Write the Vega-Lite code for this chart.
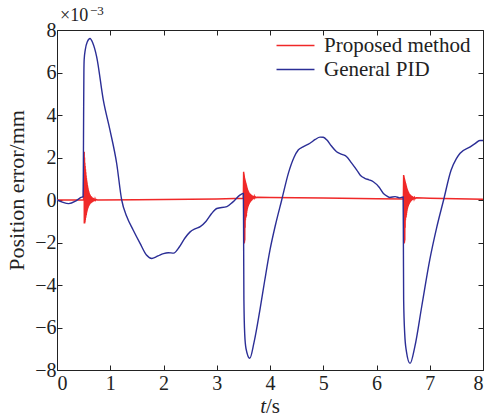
{
  "$schema": "https://vega.github.io/schema/vega-lite/v6.json",
  "width": 426,
  "height": 340,
  "autosize": "none",
  "padding": {"left": 57, "top": 30, "right": 6, "bottom": 48},
  "background": "white",
  "config": {
    "view": {"stroke": "#222", "strokeWidth": 1},
    "axis": {
      "grid": false,
      "labelFont": "Liberation Serif",
      "labelFontSize": 20,
      "labelColor": "#222",
      "tickColor": "#222",
      "domainColor": "#222",
      "tickSize": -5,
      "titleFont": "Liberation Serif",
      "titleFontWeight": "normal",
      "titleColor": "#222"
    },
    "legend": {
      "labelFont": "Liberation Serif",
      "labelFontSize": 21,
      "labelColor": "#222"
    }
  },
  "datasets": {
    "red": [
      {"t": 0, "e": 0, "series": "Proposed method"},
      {"t": 0.25, "e": 0, "series": "Proposed method"},
      {"t": 0.5, "e": 0, "series": "Proposed method"},
      {"t": 0.51, "e": 2.27, "series": "Proposed method"},
      {"t": 0.513, "e": -1.1, "series": "Proposed method"},
      {"t": 0.516, "e": 2.0, "series": "Proposed method"},
      {"t": 0.519, "e": -1.1, "series": "Proposed method"},
      {"t": 0.522, "e": 1.75, "series": "Proposed method"},
      {"t": 0.525, "e": -1.05, "series": "Proposed method"},
      {"t": 0.528, "e": 1.6, "series": "Proposed method"},
      {"t": 0.531, "e": -0.95, "series": "Proposed method"},
      {"t": 0.534, "e": 1.45, "series": "Proposed method"},
      {"t": 0.537, "e": -0.85, "series": "Proposed method"},
      {"t": 0.54, "e": 1.3, "series": "Proposed method"},
      {"t": 0.543, "e": -0.78, "series": "Proposed method"},
      {"t": 0.546, "e": 1.15, "series": "Proposed method"},
      {"t": 0.549, "e": -0.7, "series": "Proposed method"},
      {"t": 0.552, "e": 1.02, "series": "Proposed method"},
      {"t": 0.555, "e": -0.62, "series": "Proposed method"},
      {"t": 0.558, "e": 0.92, "series": "Proposed method"},
      {"t": 0.561, "e": -0.55, "series": "Proposed method"},
      {"t": 0.564, "e": 0.82, "series": "Proposed method"},
      {"t": 0.567, "e": -0.49, "series": "Proposed method"},
      {"t": 0.57, "e": 0.72, "series": "Proposed method"},
      {"t": 0.573, "e": -0.44, "series": "Proposed method"},
      {"t": 0.576, "e": 0.63, "series": "Proposed method"},
      {"t": 0.579, "e": -0.39, "series": "Proposed method"},
      {"t": 0.582, "e": 0.55, "series": "Proposed method"},
      {"t": 0.585, "e": -0.35, "series": "Proposed method"},
      {"t": 0.588, "e": 0.48, "series": "Proposed method"},
      {"t": 0.591, "e": -0.31, "series": "Proposed method"},
      {"t": 0.594, "e": 0.42, "series": "Proposed method"},
      {"t": 0.597, "e": -0.28, "series": "Proposed method"},
      {"t": 0.6, "e": 0.37, "series": "Proposed method"},
      {"t": 0.603, "e": -0.25, "series": "Proposed method"},
      {"t": 0.606, "e": 0.32, "series": "Proposed method"},
      {"t": 0.609, "e": -0.22, "series": "Proposed method"},
      {"t": 0.612, "e": 0.28, "series": "Proposed method"},
      {"t": 0.615, "e": -0.2, "series": "Proposed method"},
      {"t": 0.618, "e": 0.25, "series": "Proposed method"},
      {"t": 0.621, "e": -0.18, "series": "Proposed method"},
      {"t": 0.625, "e": 0.22, "series": "Proposed method"},
      {"t": 0.63, "e": -0.16, "series": "Proposed method"},
      {"t": 0.635, "e": 0.19, "series": "Proposed method"},
      {"t": 0.64, "e": -0.14, "series": "Proposed method"},
      {"t": 0.645, "e": 0.16, "series": "Proposed method"},
      {"t": 0.65, "e": -0.12, "series": "Proposed method"},
      {"t": 0.656, "e": 0.13, "series": "Proposed method"},
      {"t": 0.662, "e": -0.1, "series": "Proposed method"},
      {"t": 0.668, "e": 0.11, "series": "Proposed method"},
      {"t": 0.675, "e": -0.08, "series": "Proposed method"},
      {"t": 0.682, "e": 0.09, "series": "Proposed method"},
      {"t": 0.69, "e": -0.06, "series": "Proposed method"},
      {"t": 0.698, "e": 0.07, "series": "Proposed method"},
      {"t": 0.706, "e": -0.04, "series": "Proposed method"},
      {"t": 0.715, "e": 0.05, "series": "Proposed method"},
      {"t": 0.725, "e": -0.02, "series": "Proposed method"},
      {"t": 0.74, "e": 0.02, "series": "Proposed method"},
      {"t": 0.76, "e": 0, "series": "Proposed method"},
      {"t": 1.5, "e": 0.01, "series": "Proposed method"},
      {"t": 2.5, "e": 0.03, "series": "Proposed method"},
      {"t": 3.0, "e": 0.05, "series": "Proposed method"},
      {"t": 3.5, "e": 0.08, "series": "Proposed method"},
      {"t": 3.505, "e": 1.33, "series": "Proposed method"},
      {"t": 3.508, "e": -2.05, "series": "Proposed method"},
      {"t": 3.511, "e": 1.25, "series": "Proposed method"},
      {"t": 3.514, "e": -2.05, "series": "Proposed method"},
      {"t": 3.517, "e": 1.15, "series": "Proposed method"},
      {"t": 3.52, "e": -2.0, "series": "Proposed method"},
      {"t": 3.523, "e": 1.05, "series": "Proposed method"},
      {"t": 3.526, "e": -1.9, "series": "Proposed method"},
      {"t": 3.529, "e": 0.98, "series": "Proposed method"},
      {"t": 3.532, "e": -1.3, "series": "Proposed method"},
      {"t": 3.535, "e": 0.92, "series": "Proposed method"},
      {"t": 3.538, "e": -0.95, "series": "Proposed method"},
      {"t": 3.541, "e": 0.86, "series": "Proposed method"},
      {"t": 3.544, "e": -0.85, "series": "Proposed method"},
      {"t": 3.547, "e": 0.8, "series": "Proposed method"},
      {"t": 3.55, "e": -0.8, "series": "Proposed method"},
      {"t": 3.553, "e": 0.74, "series": "Proposed method"},
      {"t": 3.556, "e": -0.75, "series": "Proposed method"},
      {"t": 3.559, "e": 0.68, "series": "Proposed method"},
      {"t": 3.562, "e": -0.6, "series": "Proposed method"},
      {"t": 3.565, "e": 0.62, "series": "Proposed method"},
      {"t": 3.568, "e": -0.5, "series": "Proposed method"},
      {"t": 3.571, "e": 0.56, "series": "Proposed method"},
      {"t": 3.574, "e": -0.43, "series": "Proposed method"},
      {"t": 3.577, "e": 0.51, "series": "Proposed method"},
      {"t": 3.58, "e": -0.37, "series": "Proposed method"},
      {"t": 3.583, "e": 0.47, "series": "Proposed method"},
      {"t": 3.586, "e": -0.32, "series": "Proposed method"},
      {"t": 3.589, "e": 0.43, "series": "Proposed method"},
      {"t": 3.592, "e": -0.28, "series": "Proposed method"},
      {"t": 3.595, "e": 0.4, "series": "Proposed method"},
      {"t": 3.598, "e": -0.24, "series": "Proposed method"},
      {"t": 3.601, "e": 0.37, "series": "Proposed method"},
      {"t": 3.604, "e": -0.2, "series": "Proposed method"},
      {"t": 3.607, "e": 0.34, "series": "Proposed method"},
      {"t": 3.61, "e": -0.17, "series": "Proposed method"},
      {"t": 3.614, "e": 0.32, "series": "Proposed method"},
      {"t": 3.618, "e": -0.14, "series": "Proposed method"},
      {"t": 3.622, "e": 0.3, "series": "Proposed method"},
      {"t": 3.626, "e": -0.11, "series": "Proposed method"},
      {"t": 3.63, "e": 0.28, "series": "Proposed method"},
      {"t": 3.635, "e": -0.08, "series": "Proposed method"},
      {"t": 3.64, "e": 0.26, "series": "Proposed method"},
      {"t": 3.645, "e": -0.05, "series": "Proposed method"},
      {"t": 3.65, "e": 0.24, "series": "Proposed method"},
      {"t": 3.656, "e": -0.02, "series": "Proposed method"},
      {"t": 3.662, "e": 0.22, "series": "Proposed method"},
      {"t": 3.668, "e": 0.01, "series": "Proposed method"},
      {"t": 3.675, "e": 0.2, "series": "Proposed method"},
      {"t": 3.682, "e": 0.04, "series": "Proposed method"},
      {"t": 3.69, "e": 0.18, "series": "Proposed method"},
      {"t": 3.698, "e": 0.07, "series": "Proposed method"},
      {"t": 3.706, "e": 0.16, "series": "Proposed method"},
      {"t": 3.715, "e": 0.09, "series": "Proposed method"},
      {"t": 3.725, "e": 0.14, "series": "Proposed method"},
      {"t": 3.74, "e": 0.11, "series": "Proposed method"},
      {"t": 3.76, "e": 0.13, "series": "Proposed method"},
      {"t": 4.0, "e": 0.12, "series": "Proposed method"},
      {"t": 5.0, "e": 0.09, "series": "Proposed method"},
      {"t": 6.0, "e": 0.06, "series": "Proposed method"},
      {"t": 6.505, "e": 0.05, "series": "Proposed method"},
      {"t": 6.51, "e": 1.18, "series": "Proposed method"},
      {"t": 6.513, "e": -2.05, "series": "Proposed method"},
      {"t": 6.516, "e": 1.12, "series": "Proposed method"},
      {"t": 6.519, "e": -2.05, "series": "Proposed method"},
      {"t": 6.522, "e": 1.05, "series": "Proposed method"},
      {"t": 6.525, "e": -2.0, "series": "Proposed method"},
      {"t": 6.528, "e": 0.98, "series": "Proposed method"},
      {"t": 6.531, "e": -1.9, "series": "Proposed method"},
      {"t": 6.534, "e": 0.92, "series": "Proposed method"},
      {"t": 6.537, "e": -1.3, "series": "Proposed method"},
      {"t": 6.54, "e": 0.86, "series": "Proposed method"},
      {"t": 6.543, "e": -0.95, "series": "Proposed method"},
      {"t": 6.546, "e": 0.8, "series": "Proposed method"},
      {"t": 6.549, "e": -0.85, "series": "Proposed method"},
      {"t": 6.552, "e": 0.74, "series": "Proposed method"},
      {"t": 6.555, "e": -0.8, "series": "Proposed method"},
      {"t": 6.558, "e": 0.68, "series": "Proposed method"},
      {"t": 6.561, "e": -0.72, "series": "Proposed method"},
      {"t": 6.564, "e": 0.62, "series": "Proposed method"},
      {"t": 6.567, "e": -0.6, "series": "Proposed method"},
      {"t": 6.57, "e": 0.57, "series": "Proposed method"},
      {"t": 6.573, "e": -0.5, "series": "Proposed method"},
      {"t": 6.576, "e": 0.52, "series": "Proposed method"},
      {"t": 6.579, "e": -0.43, "series": "Proposed method"},
      {"t": 6.582, "e": 0.47, "series": "Proposed method"},
      {"t": 6.585, "e": -0.37, "series": "Proposed method"},
      {"t": 6.588, "e": 0.43, "series": "Proposed method"},
      {"t": 6.591, "e": -0.32, "series": "Proposed method"},
      {"t": 6.594, "e": 0.4, "series": "Proposed method"},
      {"t": 6.597, "e": -0.28, "series": "Proposed method"},
      {"t": 6.6, "e": 0.37, "series": "Proposed method"},
      {"t": 6.603, "e": -0.24, "series": "Proposed method"},
      {"t": 6.606, "e": 0.34, "series": "Proposed method"},
      {"t": 6.609, "e": -0.2, "series": "Proposed method"},
      {"t": 6.612, "e": 0.31, "series": "Proposed method"},
      {"t": 6.615, "e": -0.17, "series": "Proposed method"},
      {"t": 6.619, "e": 0.28, "series": "Proposed method"},
      {"t": 6.623, "e": -0.14, "series": "Proposed method"},
      {"t": 6.627, "e": 0.26, "series": "Proposed method"},
      {"t": 6.631, "e": -0.11, "series": "Proposed method"},
      {"t": 6.635, "e": 0.24, "series": "Proposed method"},
      {"t": 6.64, "e": -0.08, "series": "Proposed method"},
      {"t": 6.645, "e": 0.22, "series": "Proposed method"},
      {"t": 6.65, "e": -0.05, "series": "Proposed method"},
      {"t": 6.656, "e": 0.2, "series": "Proposed method"},
      {"t": 6.662, "e": -0.02, "series": "Proposed method"},
      {"t": 6.668, "e": 0.18, "series": "Proposed method"},
      {"t": 6.675, "e": 0.0, "series": "Proposed method"},
      {"t": 6.682, "e": 0.16, "series": "Proposed method"},
      {"t": 6.69, "e": 0.03, "series": "Proposed method"},
      {"t": 6.698, "e": 0.14, "series": "Proposed method"},
      {"t": 6.706, "e": 0.05, "series": "Proposed method"},
      {"t": 6.715, "e": 0.12, "series": "Proposed method"},
      {"t": 6.73, "e": 0.07, "series": "Proposed method"},
      {"t": 6.75, "e": 0.1, "series": "Proposed method"},
      {"t": 7.0, "e": 0.08, "series": "Proposed method"},
      {"t": 8.0, "e": 0.04, "series": "Proposed method"}
    ],
    "blue": [
      {"t": 0, "e": 0, "series": "General PID"},
      {"t": 0.1, "e": -0.1, "series": "General PID"},
      {"t": 0.22, "e": -0.17, "series": "General PID"},
      {"t": 0.35, "e": -0.05, "series": "General PID"},
      {"t": 0.45, "e": 0.12, "series": "General PID"},
      {"t": 0.49, "e": 0.16, "series": "General PID"},
      {"t": 0.495, "e": 1.5, "series": "General PID"},
      {"t": 0.5, "e": 4.0, "series": "General PID"},
      {"t": 0.505, "e": 6.0, "series": "General PID"},
      {"t": 0.51, "e": 6.6, "series": "General PID"},
      {"t": 0.53, "e": 7.05, "series": "General PID"},
      {"t": 0.57, "e": 7.45, "series": "General PID"},
      {"t": 0.62, "e": 7.6, "series": "General PID"},
      {"t": 0.67, "e": 7.4, "series": "General PID"},
      {"t": 0.745, "e": 6.74, "series": "General PID"},
      {"t": 0.87, "e": 4.7, "series": "General PID"},
      {"t": 0.995, "e": 3.29, "series": "General PID"},
      {"t": 1.12, "e": 1.73, "series": "General PID"},
      {"t": 1.215, "e": 0, "series": "General PID"},
      {"t": 1.31, "e": -0.78, "series": "General PID"},
      {"t": 1.43, "e": -1.41, "series": "General PID"},
      {"t": 1.56, "e": -2.04, "series": "General PID"},
      {"t": 1.68, "e": -2.59, "series": "General PID"},
      {"t": 1.78, "e": -2.75, "series": "General PID"},
      {"t": 1.86, "e": -2.68, "series": "General PID"},
      {"t": 1.93, "e": -2.59, "series": "General PID"},
      {"t": 2.0, "e": -2.52, "series": "General PID"},
      {"t": 2.09, "e": -2.48, "series": "General PID"},
      {"t": 2.19, "e": -2.5, "series": "General PID"},
      {"t": 2.3, "e": -2.2, "series": "General PID"},
      {"t": 2.4, "e": -1.8, "series": "General PID"},
      {"t": 2.5, "e": -1.5, "series": "General PID"},
      {"t": 2.6, "e": -1.35, "series": "General PID"},
      {"t": 2.69, "e": -1.25, "series": "General PID"},
      {"t": 2.8, "e": -1.0, "series": "General PID"},
      {"t": 2.9, "e": -0.65, "series": "General PID"},
      {"t": 3.0, "e": -0.4, "series": "General PID"},
      {"t": 3.19, "e": -0.31, "series": "General PID"},
      {"t": 3.3, "e": -0.1, "series": "General PID"},
      {"t": 3.44, "e": 0.24, "series": "General PID"},
      {"t": 3.5, "e": 0.31, "series": "General PID"},
      {"t": 3.505, "e": -2.0, "series": "General PID"},
      {"t": 3.51, "e": -4.7, "series": "General PID"},
      {"t": 3.525, "e": -6.3, "series": "General PID"},
      {"t": 3.55, "e": -7.0, "series": "General PID"},
      {"t": 3.62, "e": -7.45, "series": "General PID"},
      {"t": 3.7, "e": -6.7, "series": "General PID"},
      {"t": 3.81, "e": -5.18, "series": "General PID"},
      {"t": 3.9, "e": -3.8, "series": "General PID"},
      {"t": 4.0, "e": -2.35, "series": "General PID"},
      {"t": 4.1, "e": -1.2, "series": "General PID"},
      {"t": 4.22, "e": 0, "series": "General PID"},
      {"t": 4.35, "e": 1.3, "series": "General PID"},
      {"t": 4.45, "e": 2.0, "series": "General PID"},
      {"t": 4.53, "e": 2.35, "series": "General PID"},
      {"t": 4.62, "e": 2.5, "series": "General PID"},
      {"t": 4.75, "e": 2.67, "series": "General PID"},
      {"t": 4.85, "e": 2.85, "series": "General PID"},
      {"t": 4.94, "e": 2.96, "series": "General PID"},
      {"t": 5.0, "e": 2.95, "series": "General PID"},
      {"t": 5.07, "e": 2.82, "series": "General PID"},
      {"t": 5.15, "e": 2.55, "series": "General PID"},
      {"t": 5.25, "e": 2.27, "series": "General PID"},
      {"t": 5.35, "e": 2.15, "series": "General PID"},
      {"t": 5.44, "e": 2.04, "series": "General PID"},
      {"t": 5.53, "e": 1.75, "series": "General PID"},
      {"t": 5.63, "e": 1.41, "series": "General PID"},
      {"t": 5.7, "e": 1.15, "series": "General PID"},
      {"t": 5.78, "e": 1.02, "series": "General PID"},
      {"t": 5.86, "e": 0.95, "series": "General PID"},
      {"t": 5.94, "e": 0.86, "series": "General PID"},
      {"t": 6.05, "e": 0.6, "series": "General PID"},
      {"t": 6.13, "e": 0.31, "series": "General PID"},
      {"t": 6.2, "e": 0.18, "series": "General PID"},
      {"t": 6.25, "e": 0.12, "series": "General PID"},
      {"t": 6.35, "e": 0.16, "series": "General PID"},
      {"t": 6.44, "e": 0.1, "series": "General PID"},
      {"t": 6.5, "e": 0.14, "series": "General PID"},
      {"t": 6.505, "e": -2.0, "series": "General PID"},
      {"t": 6.51, "e": -4.7, "series": "General PID"},
      {"t": 6.53, "e": -6.3, "series": "General PID"},
      {"t": 6.56, "e": -7.1, "series": "General PID"},
      {"t": 6.63, "e": -7.69, "series": "General PID"},
      {"t": 6.72, "e": -6.9, "series": "General PID"},
      {"t": 6.85, "e": -5.0, "series": "General PID"},
      {"t": 7.0, "e": -2.82, "series": "General PID"},
      {"t": 7.13, "e": -1.3, "series": "General PID"},
      {"t": 7.26, "e": 0, "series": "General PID"},
      {"t": 7.4, "e": 1.4, "series": "General PID"},
      {"t": 7.5, "e": 1.95, "series": "General PID"},
      {"t": 7.57, "e": 2.2, "series": "General PID"},
      {"t": 7.76, "e": 2.5, "series": "General PID"},
      {"t": 7.85, "e": 2.65, "series": "General PID"},
      {"t": 7.94, "e": 2.8, "series": "General PID"},
      {"t": 8.0, "e": 2.8, "series": "General PID"}
    ]
  },
  "layer": [
    {
      "data": {"name": "red"},
      "mark": {"type": "line", "strokeWidth": 1.5, "clip": true},
      "encoding": {
        "x": {"field": "t", "type": "quantitative", "scale": {"domain": [0, 8], "nice": false},
              "axis": {"orient": "bottom", "values": [0,1,2,3,4,5,6,7,8], "title": null, "labelPadding": 8, "domain": false}},
        "y": {"field": "e", "type": "quantitative", "scale": {"domain": [-8, 8], "nice": false},
              "axis": {"orient": "left", "values": [-8,-6,-4,-2,0,2,4,6,8], "labelPadding": 6, "domain": false,
                       "title": "Position error/mm", "titleFontSize": 22, "titleX": -34, "titleY": 160, "titleAngle": -90, "titleAlign": "center", "titleBaseline": "alphabetic"}},
        "color": {"field": "series", "type": "nominal",
                  "scale": {"domain": ["Proposed method", "General PID"], "range": ["#f02828", "#2b2e96"]},
                  "legend": {"title": null, "orient": "none", "legendX": 228, "legendY": 5, "symbolType": "M-3,0H3", "symbolSize": 160, "symbolStrokeWidth": 1.5, "labelOffset": 18, "rowPadding": 2, "direction": "vertical"}}
      }
    },
    {
      "data": {"name": "blue"},
      "mark": {"type": "line", "strokeWidth": 1.4, "clip": true, "interpolate": "monotone"},
      "encoding": {
        "x": {"field": "t", "type": "quantitative", "scale": {"domain": [0, 8], "nice": false},
              "axis": {"orient": "top", "values": [0,1,2,3,4,5,6,7,8], "labels": false, "title": null, "domain": false}},
        "y": {"field": "e", "type": "quantitative", "scale": {"domain": [-8, 8], "nice": false},
              "axis": {"orient": "right", "values": [-8,-6,-4,-2,0,2,4,6,8], "labels": false, "title": null, "domain": false}},
        "color": {"field": "series", "type": "nominal"}
      }
    },
    {
      "data": {"values": [{}]},
      "mark": {"type": "text", "text": "×10", "font": "Liberation Serif", "fontSize": 18, "align": "left", "baseline": "alphabetic", "dx": 3, "dy": -9, "color": "#222"},
      "encoding": {"x": {"datum": 0, "type": "quantitative", "axis": null}, "y": {"datum": 8, "type": "quantitative", "axis": null}}
    },
    {
      "data": {"values": [{}]},
      "mark": {"type": "text", "text": "−3", "font": "Liberation Serif", "fontSize": 13, "align": "left", "baseline": "alphabetic", "dx": 33, "dy": -15, "color": "#222"},
      "encoding": {"x": {"datum": 0, "type": "quantitative", "axis": null}, "y": {"datum": 8, "type": "quantitative", "axis": null}}
    },
    {
      "data": {"values": [{}]},
      "mark": {"type": "text", "text": "t", "font": "Liberation Serif", "fontSize": 21, "fontStyle": "italic", "align": "right", "baseline": "alphabetic", "dx": -4, "dy": 43, "color": "#222"},
      "encoding": {"x": {"datum": 4, "type": "quantitative", "axis": null}, "y": {"datum": -8, "type": "quantitative", "axis": null}}
    },
    {
      "data": {"values": [{}]},
      "mark": {"type": "text", "text": "/s", "font": "Liberation Serif", "fontSize": 21, "align": "left", "baseline": "alphabetic", "dx": -4, "dy": 43, "color": "#222"},
      "encoding": {"x": {"datum": 4, "type": "quantitative", "axis": null}, "y": {"datum": -8, "type": "quantitative", "axis": null}}
    }
  ],
  "resolve": {"axis": {"x": "independent", "y": "independent"}}
}
